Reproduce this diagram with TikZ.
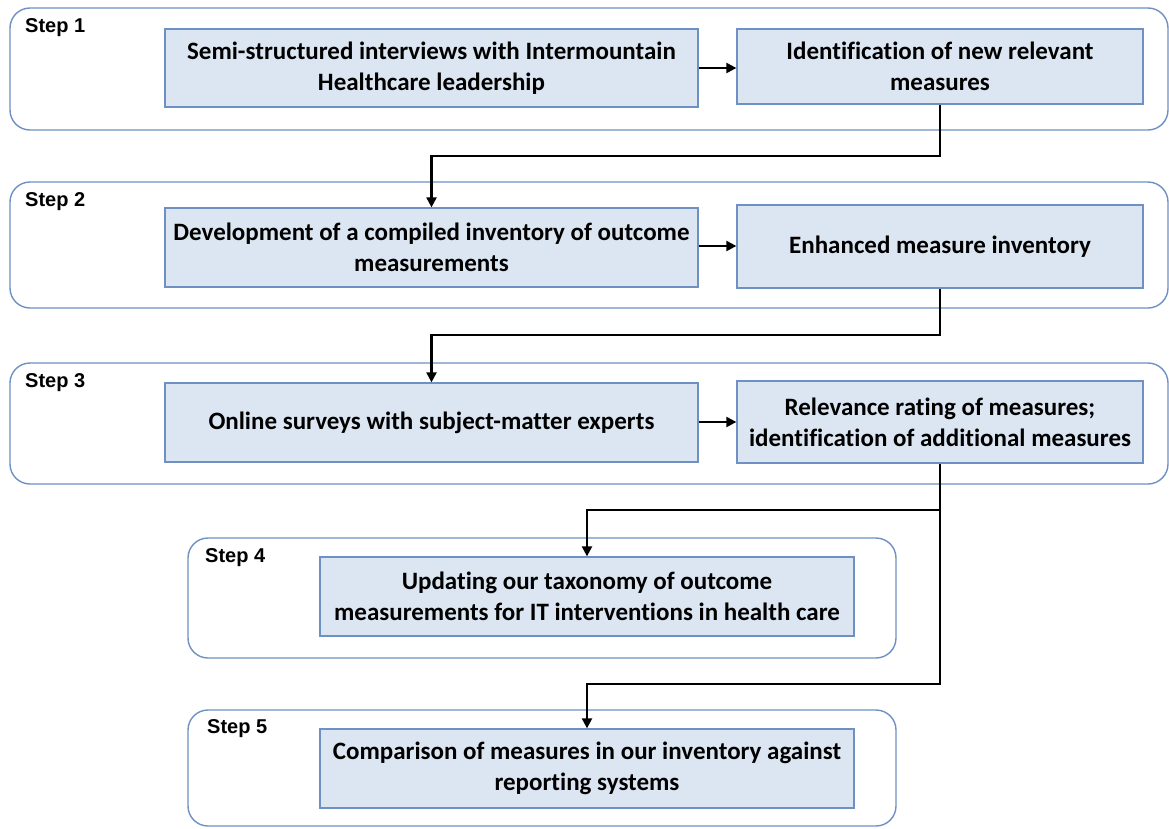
\documentclass[tikz,border=0pt]{standalone}
\usepackage{fontspec}
\setmainfont{Carlito}[Ligatures=NoCommon]
\newfontfamily\lblfont{Liberation Sans}
\usetikzlibrary{fit,arrows.meta}
\definecolor{boxfill}{RGB}{220,230,242}
\definecolor{boxline}{RGB}{110,145,195}
\definecolor{frameline}{RGB}{110,145,195}
\tikzset{
  frame/.style={draw=frameline, line width=1.4pt, rounded corners=20pt, inner sep=0pt},
  box/.style={draw=boxline, fill=boxfill, line width=1.3pt, inner sep=0pt, align=center,
    font=\bfseries\fontsize{25}{31}\selectfont},
  steplbl/.style={font=\lblfont\bfseries\fontsize{20}{24}\selectfont, anchor=west, inner sep=0pt},
  arr/.style={draw=black, line width=2.2pt, -{Triangle[length=10pt,width=10pt]}},
}
\begin{document}
\begin{tikzpicture}[x=1pt,y=-1pt]
\useasboundingbox (0,0) rectangle (1169,828);
% frames
\node[frame, fit={(10,8) (1168,130)}] (s1) {};
\node[frame, fit={(10,182) (1168,308)}] (s2) {};
\node[frame, fit={(10,363) (1168,484)}] (s3) {};
\node[frame, fit={(188,538) (896,658)}] (s4) {};
\node[frame, fit={(188,710) (896,826)}] (s5) {};
% labels
\node[steplbl] (l1) at (25,28) {Step 1};
\node[steplbl] (l2) at (25,202) {Step 2};
\node[steplbl] (l3) at (25,383) {Step 3};
\node[steplbl] (l4) at (205,558) {Step 4};
\node[steplbl] (l5) at (207,729) {Step 5};
% boxes
\node[box, minimum width=533pt, minimum height=78pt] (b1a) at (431.5,68)
  {Semi-structured interviews with Intermountain\\Healthcare leadership};
\node[box, minimum width=406pt, minimum height=75pt] (b1b) at (940,66.5)
  {Identification of new relevant\\measures};
\node[box, minimum width=533pt, minimum height=79pt] (b2a) at (431.5,247.5)
  {Development of a compiled inventory of outcome\\measurements};
\node[box, minimum width=406pt, minimum height=83pt] (b2b) at (940,246.5)
  {Enhanced measure inventory};
\node[box, minimum width=533pt, minimum height=79pt] (b3a) at (431.5,422.5)
  {Online surveys with subject-matter experts};
\node[box, minimum width=406pt, minimum height=82pt] (b3b) at (940,422)
  {Relevance rating of measures;\\identification of additional measures};
\node[box, minimum width=534pt, minimum height=79pt] (b4) at (587,596.5)
  {Updating our taxonomy of outcome\\measurements for IT interventions in health care};
\node[box, minimum width=534pt, minimum height=79pt] (b5) at (587,768.5)
  {Comparison of measures in our inventory against\\reporting systems};
% junctions
\coordinate (j1) at (940,156);
\coordinate (j2) at (940,335);
\coordinate (j3) at (940,510);
\coordinate (j4) at (940,684);
% connectors
\draw[arr] (b1a.east |- 0,68) -- (b1b.west |- 0,68);
\draw[arr] (b2a.east |- 0,246) -- (b2b.west |- 0,246);
\draw[arr] (b3a.east |- 0,422) -- (b3b.west |- 0,422);
\draw[arr] (b1b.south) -- (j1) -| (b2a.north);
\draw[arr] (b2b.south) -- (j2) -| (b3a.north);
\draw[arr] (b3b.south) -- (j3) -| (b4.north);
\draw[arr] (j3) -- (j4) -| (b5.north);
\end{tikzpicture}
\end{document}
